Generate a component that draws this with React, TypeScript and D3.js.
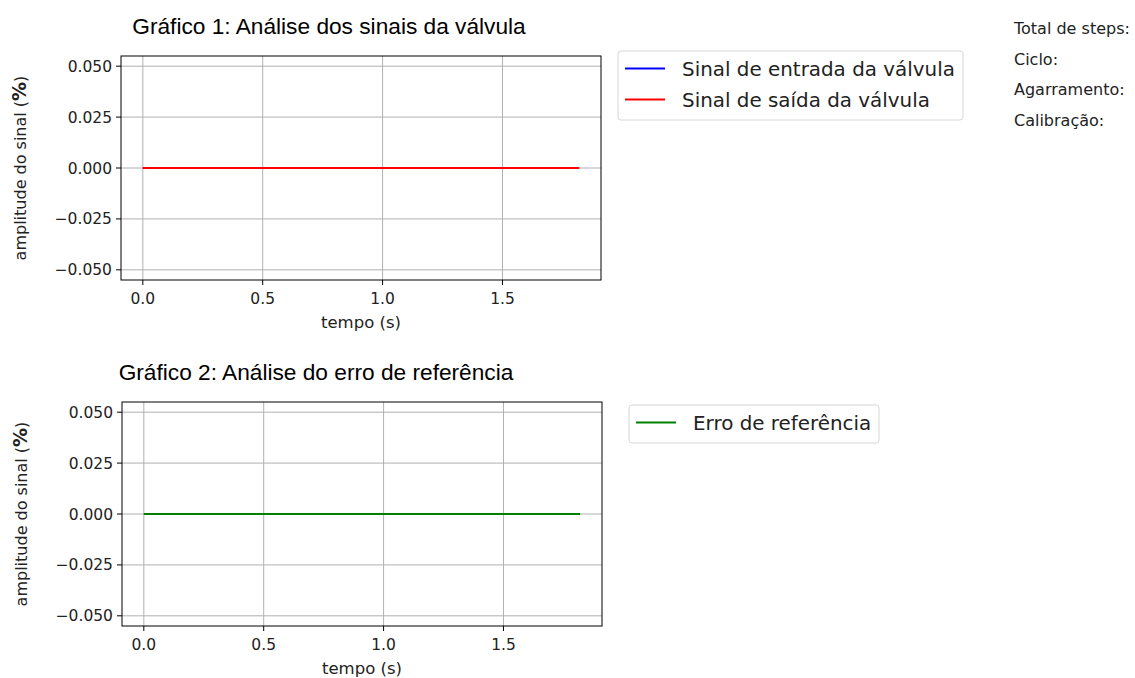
import * as d3 from 'd3';

// time samples (s) and signal values (%)
const tempo = [0, 0.25, 0.5, 0.75, 1.0, 1.25, 1.5, 1.82];
const sinalEntrada = [0, 0, 0, 0, 0, 0, 0, 0];
const sinalSaida = [0, 0, 0, 0, 0, 0, 0, 0];
const erroReferencia = [0, 0, 0, 0, 0, 0, 0, 0];

const xTicks = [0, 0.5, 1.0, 1.5];
const yTicks = [0.05, 0.025, 0, -0.025, -0.05];
const infoLabels = ['Total de steps:', 'Ciclo:', 'Agarramento:', 'Calibração:'];

const W = 1135;
const H = 678;
const tickFont = '"DejaVu Sans", sans-serif';
const titleFont = '"Liberation Sans", Arial, sans-serif';

interface Serie {
  label: string;
  color: string;
  values: number[];
}

interface PanelProps {
  top: number;
  left: number;
  title: string;
  titleX: number;
  series: Serie[];
  legendBox: { x: number; y: number; w: number; h: number };
}

function Panel({ top, left, title, titleX, series, legendBox }: PanelProps) {
  const pw = 480;
  const ph = 224;
  const x = d3.scaleLinear().domain([-0.091, 1.911]).range([left, left + pw]);
  const y = d3.scaleLinear().domain([-0.055, 0.055]).range([top + ph, top]);
  const line = d3
    .line<number>()
    .x((_, i) => x(tempo[i]))
    .y((d) => y(d));
  const fmtY = (v: number) => (v < 0 ? '\u2212' : '') + Math.abs(v).toFixed(3);

  return (
    <g>
      <text x={titleX} y={top - 22} textAnchor="middle" fontFamily={titleFont} fontSize={22.7} fill="#000">
        {title}
      </text>
      {/* grid */}
      {xTicks.map((t) => (
        <line key={'gx' + t} x1={x(t)} x2={x(t)} y1={top} y2={top + ph} stroke="#b0b0b0" strokeWidth={1} />
      ))}
      {yTicks.map((t) => (
        <line key={'gy' + t} x1={left} x2={left + pw} y1={y(t)} y2={y(t)} stroke="#b0b0b0" strokeWidth={1} />
      ))}
      {/* lines */}
      {series.map((s) => (
        <path key={s.label} d={line(s.values) ?? ''} fill="none" stroke={s.color} strokeWidth={2} />
      ))}
      {/* frame */}
      <rect x={left} y={top} width={pw} height={ph} fill="none" stroke="#000" strokeWidth={1} />
      {/* ticks */}
      {xTicks.map((t) => (
        <g key={'tx' + t}>
          <line x1={x(t)} x2={x(t)} y1={top + ph} y2={top + ph + 5} stroke="#000" />
          <text x={x(t)} y={top + ph + 24} textAnchor="middle" fontFamily={tickFont} fontSize={15.5} fill="#222">
            {t.toFixed(1)}
          </text>
        </g>
      ))}
      {yTicks.map((t) => (
        <g key={'ty' + t}>
          <line x1={left - 5} x2={left} y1={y(t)} y2={y(t)} stroke="#000" />
          <text x={left - 9} y={y(t) + 5.5} textAnchor="end" fontFamily={tickFont} fontSize={15.5} fill="#222">
            {fmtY(t)}
          </text>
        </g>
      ))}
      <text x={left + pw / 2} y={top + ph + 48} textAnchor="middle" fontFamily={tickFont} fontSize={16.5} fill="#222">
        tempo (s)
      </text>
      <text
        transform={`translate(${left - 95},${top + ph / 2}) rotate(-90)`}
        textAnchor="middle"
        fontFamily={tickFont}
        fontSize={16}
        fill="#222"
      >
        amplitude do sinal (<tspan fontSize={19} fontWeight="bold" fill="#222">%</tspan>)
      </text>
      {/* legend */}
      <rect
        x={legendBox.x}
        y={legendBox.y}
        width={legendBox.w}
        height={legendBox.h}
        rx={3}
        fill="#fff"
        stroke="#d6d6d6"
        strokeWidth={1}
      />
      {series.map((s, i) => {
        const cy = legendBox.y + 17.5 + i * 31;
        return (
          <g key={'lg' + s.label}>
            <line x1={legendBox.x + 7} x2={legendBox.x + 47} y1={cy} y2={cy} stroke={s.color} strokeWidth={2} />
            <text x={legendBox.x + 64} y={cy + 7} fontFamily={tickFont} fontSize={19.9} fill="#222">
              {s.label}
            </text>
          </g>
        );
      })}
    </g>
  );
}

export default function App() {
  return (
    <svg width={W} height={H} style={{ position: 'absolute', left: 0, top: 0, background: '#fff' }}>
      <rect width={W} height={H} fill="#fff" />
      <Panel
        top={56}
        left={121}
        title="Gráfico 1: Análise dos sinais da válvula"
        titleX={329}
        series={[
          { label: 'Sinal de entrada da válvula', color: '#0000ff', values: sinalEntrada },
          { label: 'Sinal de saída da válvula', color: '#ff0000', values: sinalSaida },
        ]}
        legendBox={{ x: 618, y: 51, w: 345, h: 69 }}
      />
      <Panel
        top={402}
        left={122}
        title="Gráfico 2: Análise do erro de referência"
        titleX={316}
        series={[{ label: 'Erro de referência', color: '#008000', values: erroReferencia }]}
        legendBox={{ x: 629, y: 405, w: 250, h: 38 }}
      />
      {infoLabels.map((t, i) => (
        <text key={t} x={1014} y={34 + i * 30.7} fontFamily={tickFont} fontSize={16} fill="#222">
          {t}
        </text>
      ))}
    </svg>
  );
}
